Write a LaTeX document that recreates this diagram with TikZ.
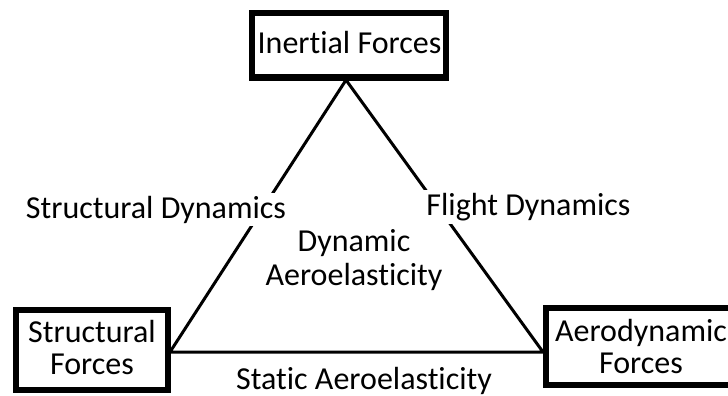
\documentclass[tikz,border=0pt]{standalone}
\usepackage{fontspec}
\setmainfont{Carlito}[Ligatures=NoCommon]
\begin{document}
\begin{tikzpicture}[x=1pt,y=-1pt,
  forcebox/.style={draw,line width=6pt,inner sep=0pt},
  lbl/.style={font=\fontsize{32}{32}\selectfont,align=center,inner sep=0pt},
  edgelbl/.style={lbl,fill=white,inner sep=3pt},
  edge/.style={line width=3pt}]
\useasboundingbox (0,0) rectangle (728,396);
\clip (0,0) rectangle (728,396);
\node[forcebox,minimum width=194pt,minimum height=64.5pt] (inertial) at (348.5,45.25) {};
\node[forcebox,minimum width=152.5pt,minimum height=80pt] (structural) at (91.75,350) {};
\node[forcebox,minimum width=214.5pt,minimum height=76.5pt] (aero) at (652.75,346.25) {};
\coordinate (apex) at (346,80);
\coordinate (lv) at (170,352);
\coordinate (rv) at (543,352);
\draw[edge] (lv) -- (apex) -- (rv) -- (lv);
\node[lbl,anchor=base] (inertialtxt) at (349.5,53) {Inertial Forces};
\node[lbl,anchor=base] (structuraltxt) at (92,374) {Structural\\Forces};
\node[lbl,anchor=base] (aerotxt) at (641,373) {Aerodynamic\\Forces};
\node[edgelbl,anchor=base] (sd) at (156,218) {Structural Dynamics};
\node[edgelbl,anchor=base] (fd) at (528.5,215) {Flight Dynamics};
\node[lbl,anchor=base,font=\fontsize{32}{34}\selectfont] (da) at (354,285) {Dynamic\\Aeroelasticity};
\node[lbl,anchor=base] (sa) at (364,389) {Static Aeroelasticity};
\end{tikzpicture}
\end{document}
